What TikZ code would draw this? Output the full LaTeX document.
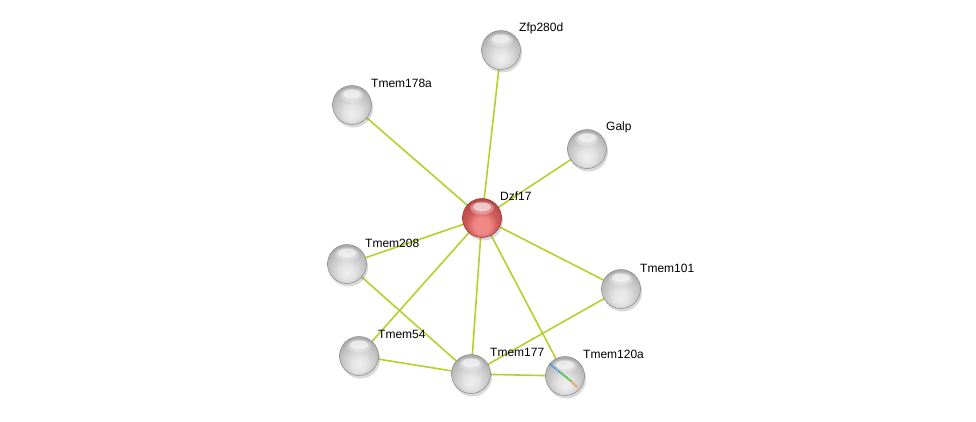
\documentclass[tikz,border=0pt]{standalone}
\usepackage{fontspec}
\setmainfont{Liberation Sans}
\usepackage{tikz}
\usetikzlibrary{calc, shadows, backgrounds}

\definecolor{edgegreen}{RGB}{181,208,45}
\definecolor{redlight}{RGB}{240,135,135}
\definecolor{redmid}{RGB}{205,88,88}
\definecolor{reddark}{RGB}{145,40,40}

\pgfdeclareradialshading{grayball}{\pgfpoint{0bp}{-12bp}}{%
  color(0bp)=(gray!12); color(10bp)=(gray!22); color(18bp)=(gray!38);
  color(25bp)=(gray!52); color(31bp)=(gray!68); color(36bp)=(gray!92); color(60bp)=(gray!92)}
\pgfdeclareradialshading{redball}{\pgfpoint{0bp}{-12bp}}{%
  color(0bp)=(redlight); color(10bp)=(redlight); color(20bp)=(redmid);
  color(29bp)=(redmid!75!reddark); color(36bp)=(reddark); color(60bp)=(reddark)}

\begin{document}
\begin{tikzpicture}[
      x=1pt, y=-1pt,
      prot/.style ={circle, minimum size=39pt, inner sep=0pt, shading=grayball,
                    draw=gray!95, line width=0.5pt,
                    drop shadow={shadow xshift=1.5pt, shadow yshift=-3pt, opacity=0.3},
                    path picture={
                      \fill[white, opacity=0.3] ($(path picture bounding box.center)+(0,-10)$) ellipse (12pt and 6.5pt);
                      \fill[white, opacity=0.55] ($(path picture bounding box.center)+(0,-11)$) ellipse (9pt and 4.5pt);}},
      query/.style={prot, shading=redball, draw=reddark},
      lbl/.style  ={anchor=west, inner sep=0pt, font=\fontsize{12}{14}\selectfont},
      link/.style ={draw=edgegreen, line width=1.6pt}
    ]
    \useasboundingbox (0,0) rectangle (976,421);

    % Proteine
    \node[query] (DZ)  at (482,218) {};
    \node[prot]  (ZF)  at (501,50)  {};
    \node[prot]  (T178) at (352,105) {};
    \node[prot]  (GA)  at (587,149) {};
    \node[prot]  (T208) at (347,264) {};
    \node[prot]  (T101) at (621,289) {};
    \node[prot]  (T54) at (359,356) {};
    \node[prot]  (T177) at (471,374) {};
    \node[prot]  (T120) at (565,376) {};

    % Kanten
    \begin{pgfonlayer}{background}
      \foreach \n in {ZF, T178, GA, T208, T101, T54, T177, T120}
        \draw[link] (DZ.center) -- (\n.center);
      \draw[link] (T208.center) -- (T177.center);
      \draw[link] (T54.center) -- (T177.center);
      \draw[link] (T177.center) -- (T120.center);
      \draw[link] (T101.center) -- (T177.center);
    \end{pgfonlayer}

    % Struktur-Markierung
    \draw[line width=1.8pt, dash pattern=on 1pt off 1pt, cyan!70!blue] ($(T120)+(-15,-12)$) -- ($(T120)+(-4,-3)$);
    \draw[line width=1.8pt, dash pattern=on 1pt off 1pt, green!70!black] ($(T120)+(-4,-3)$) -- ($(T120)+(6,5)$);
    \draw[line width=1.8pt, dash pattern=on 1pt off 1pt, orange!80!brown] ($(T120)+(6,5)$) -- ($(T120)+(12,11)$);

    % Beschriftungen
    \node[lbl] (lDZ)  at ($(DZ)+(18,-22)$)   {Dzf17};
    \node[lbl] (lZF)  at ($(ZF)+(18,-22)$)   {Zfp280d};
    \node[lbl] (lT178) at ($(T178)+(19,-22)$) {Tmem178a};
    \node[lbl] (lGA)  at ($(GA)+(19,-22)$)   {Galp};
    \node[lbl] (lT208) at ($(T208)+(18,-21)$) {Tmem208};
    \node[lbl] (lT101) at ($(T101)+(19,-21)$) {Tmem101};
    \node[lbl] (lT54) at ($(T54)+(19,-22)$)   {Tmem54};
    \node[lbl] (lT177) at ($(T177)+(19,-22)$) {Tmem177};
    \node[lbl] (lT120) at ($(T120)+(18,-22)$) {Tmem120a};

\end{tikzpicture}
\end{document}
